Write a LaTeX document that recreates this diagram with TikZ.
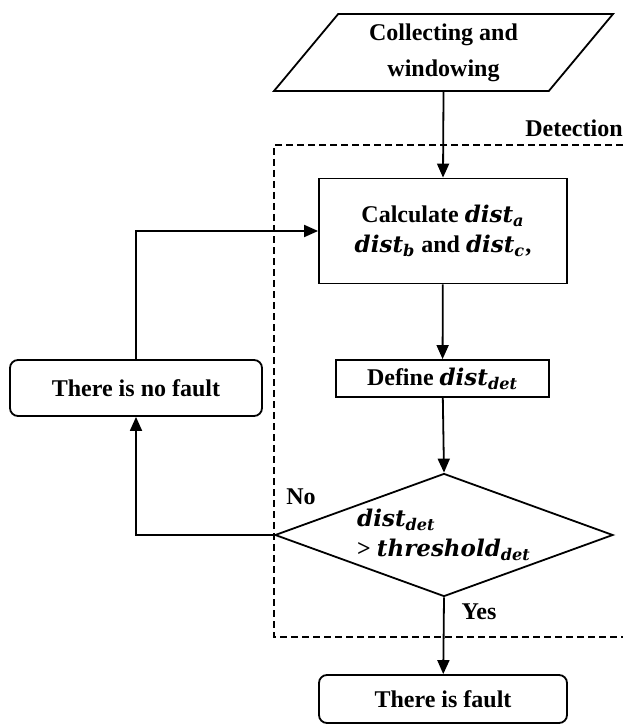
\documentclass[tikz,border=0pt]{standalone}
\usepackage{fontspec}
\setmainfont{Liberation Serif}
\newfontfamily\varfont{DejaVu Serif}
\usetikzlibrary{shapes.geometric,arrows.meta}

\newcommand{\distsub}[2]{{\varfont\itshape\fontsize{11.5}{15}\selectfont #1\textsubscript{#2}}}

\tikzset{
  procbox/.style={draw, rectangle, align=center},
  endbox/.style={draw, rectangle, rounded corners=4pt, align=center},
  iobox/.style={draw, trapezium, trapezium left angle=48, trapezium right angle=132,
    trapezium stretches body, minimum width=169.5pt, minimum height=38.5pt, align=center},
  decbox/.style={draw, diamond, aspect=2.75, inner sep=0pt, minimum width=169pt,
    minimum height=61.5pt, align=left},
  flow/.style={->}
}

\begin{document}
\begin{tikzpicture}[x=0.5pt, y=-0.5pt, line width=0.9pt,
    >={Triangle[length=7pt,width=6pt]},
    font=\fontsize{12}{15}\selectfont\bfseries]
    \useasboundingbox (0,0) rectangle (623,727);

    % Input
    \node[iobox, font=\fontsize{12}{18}\selectfont\bfseries] (input) at (443.5,52.5) {Collecting and\\windowing};

    % Detection block
    \draw[dash pattern=on 3.5pt off 2pt, line width=0.7pt] (623,145) -- (274,145) -- (274,637) -- (623,637);
    \node (detlabel) at (574,128) {Detection};

    % Steps
    \node[procbox, minimum width=124pt, minimum height=52.5pt] (calc) at (443,231) {Calculate \distsub{dist}{a}\\\distsub{dist}{b} and \distsub{dist}{c},};
    \node[procbox, minimum width=106.5pt, minimum height=18.5pt, inner sep=1pt] (define) at (442.5,378.5) {Define \distsub{dist}{det}};
    \node[decbox] (decide) at (444,535) {\distsub{dist}{det}\\> \distsub{threshold}{det}};

    % Outcomes
    \node[endbox, minimum width=126pt, minimum height=28pt] (nofault) at (136,388) {There is no fault};
    \node[endbox, minimum width=124pt, minimum height=24pt] (fault) at (443,699) {There is fault};

    % Connectors
    \draw[flow] (input.south) -- (calc.north);
    \draw[flow] (calc) -- (define);
    \draw[flow] (define) -- (decide.north);
    \draw[flow] (decide.south) -- (fault);
    \draw[flow] (decide.west) -| (nofault.south);
    \draw[flow] (nofault.north) |- (calc.west);

    % Branch labels
    \node (nolabel) at (301,497) {No};
    \node (yeslabel) at (479,612) {Yes};
\end{tikzpicture}
\end{document}
